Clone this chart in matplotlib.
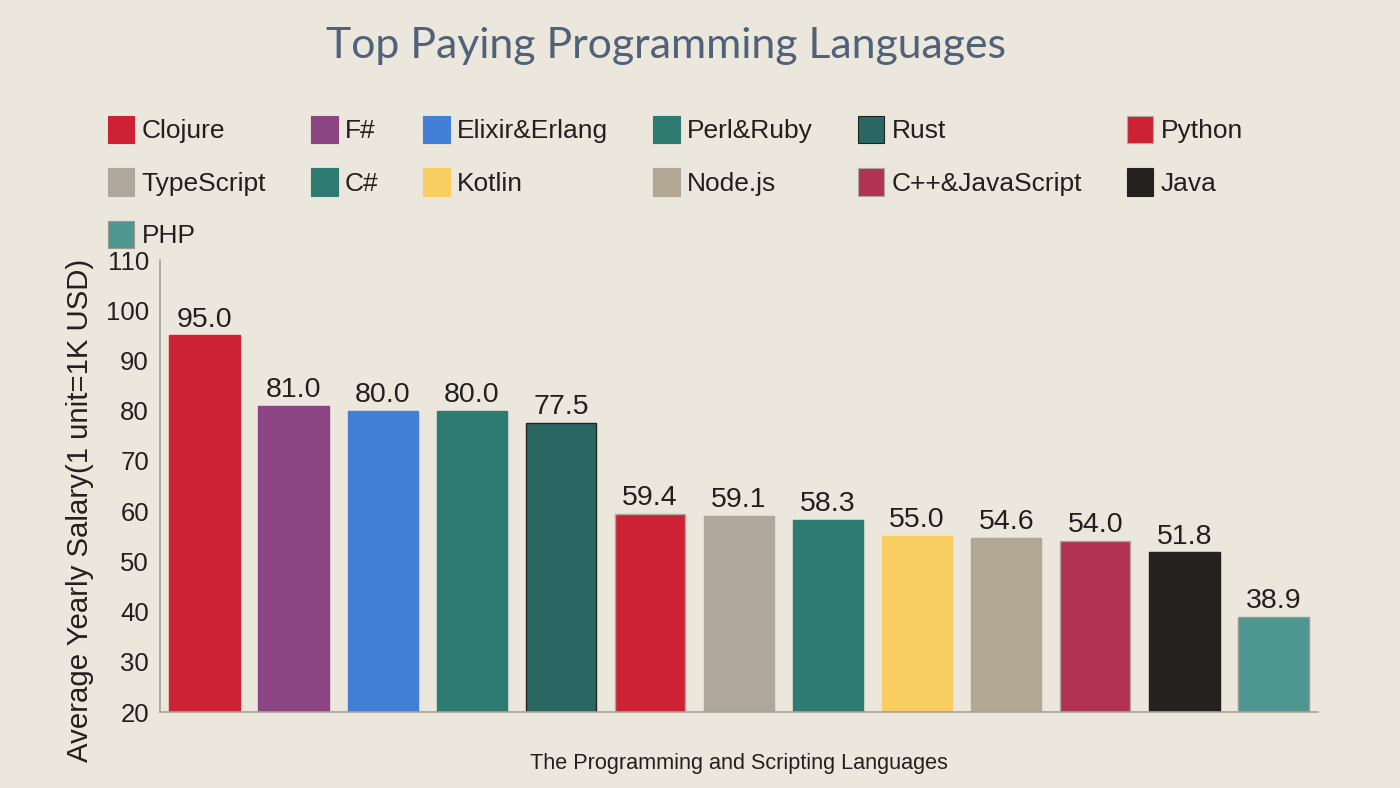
import matplotlib
matplotlib.use("Agg")
import matplotlib.pyplot as plt
from matplotlib.patches import Patch

languages = ["Clojure", "F#", "Elixir&Erlang", "Perl&Ruby", "Rust", "Python",
             "TypeScript", "C#", "Kotlin", "Node.js", "C++&JavaScript", "Java", "PHP"]
salaries = [95.0, 81.0, 80.0, 80.0, 77.5, 59.4, 59.1, 58.3, 55.0, 54.6, 54.0, 51.8, 38.9]
colors = ["#CC2233", "#8B4582", "#4180D6", "#2E7B72", "#2A6762", "#CC2233",
          "#B0A79C", "#2E7B72", "#F8CE60", "#B3A894", "#B23254", "#23221F", "#4E9690"]
edgecolors = ["#CC2233", "#8B4582", "#4180D6", "#2E7B72", "#222222", "#B0A79C",
              "#B0A79C", "#2E7B72", "#F8CE60", "#B0A79C", "#B0A79C", "#23221F", "#9A9890"]
yticks = [20, 30, 40, 50, 60, 70, 80, 90, 100, 110]

BG = "#EBE7DC"
TXT = "#231F20"
plt.rcParams['font.family'] = ['Liberation Sans', 'DejaVu Sans']

fig = plt.figure(figsize=(14, 7.88), dpi=100, facecolor=BG)
ax = fig.add_axes([160/1400, 1-712/788, (1318-160)/1400, (712-260)/788])
ax.set_facecolor(BG)

x = list(range(len(languages)))
bars = ax.bar(x, salaries, width=0.79, color=colors, edgecolor=edgecolors,
              linewidth=1.0, bottom=0)
ax.bar_label(bars, labels=[f"{v:.1f}" for v in salaries], padding=2,
             fontsize=20.5, color=TXT)

ax.set_xlim(-0.5, len(languages) - 0.5)
ax.set_ylim(20, 110)
ax.set_yticks(yticks)
ax.set_yticklabels([str(t) for t in yticks])
ax.set_xticks([])
ax.tick_params(axis='y', length=0, labelsize=18.5, labelcolor=TXT, pad=8)
for s in ["top", "right"]:
    ax.spines[s].set_visible(False)
for s in ["left", "bottom"]:
    ax.spines[s].set_color("#A8A196")
    ax.spines[s].set_linewidth(1.2)

ax.set_ylabel("Average Yearly Salary(1 unit=1K USD)", fontsize=21.2, color=TXT)
ax.yaxis.set_label_coords((94 - 160) / 1158, (712 - 510) / 452)
fig.text(739/1400, 1-763/788, "The Programming and Scripting Languages",
         fontsize=15.6, color=TXT, ha="center", va="center")

fig.text(666/1400, 1-46/788, "Top Paying Programming Languages",
         fontsize=30.8, color="#50627A", ha="center", va="center", family=["Lato", "DejaVu Sans"])

# legend, column-major ordering to reproduce row-wise layout
ncol = 6
handles = [Patch(facecolor=c, edgecolor=e, linewidth=0.8) for c, e in zip(colors, edgecolors)]
order = []
for col in range(ncol):
    for row in range(3):
        idx = row * ncol + col
        if idx < len(languages):
            order.append(idx)
leg = fig.legend([handles[i] for i in order], [languages[i] for i in order],
                 ncol=ncol, loc="upper left", bbox_to_anchor=(108/1400, 1-116/788),
                 frameon=False, fontsize=19, handlelength=1.0, handleheight=1.2,
                 handletextpad=0.28, columnspacing=1.7, labelspacing=0.95,
                 borderpad=0, borderaxespad=0)
for t in leg.get_texts():
    t.set_color(TXT)

fig.savefig("out.png", dpi=100, facecolor=BG)
